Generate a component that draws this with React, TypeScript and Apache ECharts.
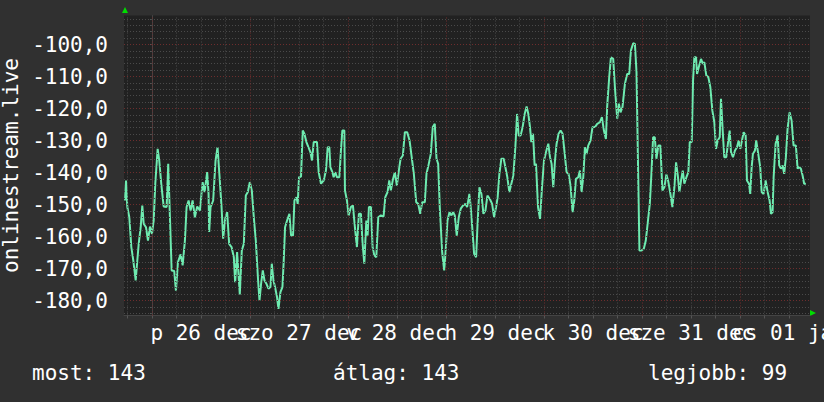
import React, { useEffect, useRef } from 'react';
import * as echarts from 'echarts';

// hours relative to 26 Dec 00:00
const hours = [
  -6.60, -6.36, -6.04, -5.55, -5.06, -4.57, -3.99, -3.59, -3.25, -2.76, -2.37, -2.03, -1.47, -0.98, -0.49, 0,
  0.42, 0.81, 1.39, 1.78, 2.27, 2.86, 3.59, 3.98, 4.40, 4.82, 5.45, 5.87, 6.36, 7.02, 7.51, 8.07, 8.48, 8.97,
  9.46, 9.95, 10.51, 11.08, 11.74, 12.40, 12.88, 13.52, 13.86, 14.01, 14.35, 14.99, 15.57, 16.06, 16.45, 17.04,
  17.43, 17.92, 18.41, 18.90, 19.49, 20.05, 20.37, 20.85, 21.51, 22.00, 22.49, 22.98, 23.47, 23.96, 24.45, 24.94,
  25.43, 25.99,
  26.33, 26.72, 27.14, 27.55, 28.04, 28.53, 29.02, 29.34, 29.75, 30.14, 30.63, 30.98, 31.46, 31.95, 32.27, 32.59,
  33.08, 33.66, 34.06, 34.54, 34.89, 35.38, 35.69, 36.01, 36.50, 36.92, 37.33, 37.82, 38.31, 38.80, 39.19, 39.61,
  40.41, 40.83, 41.39, 42.05, 42.61, 43.03, 43.44, 43.69, 44.18, 44.50, 44.91, 45.30, 45.89, 46.28, 46.62, 47.11,
  47.26, 47.75, 48.16, 48.72, 49.21, 49.70, 50.19, 50.68, 51.17, 51.59, 52.00, 52.49, 52.81, 53.13, 53.62, 54.03,
  54.45, 54.93, 55.42, 56.06, 56.72, 57.14, 57.70, 58.11, 58.50, 58.99, 59.48, 59.97,
  60.46, 60.88, 61.44, 61.93, 62.51, 63.08, 63.56, 64.13, 64.71, 65.20, 65.69, 66.18, 66.82, 67.23, 67.79, 68.28,
  68.77, 69.26, 69.68, 70.09, 70.48, 71.07, 71.56, 71.88, 72.37, 72.86, 73.34, 73.76, 74.15, 74.64, 75.13, 75.62,
  76.20, 76.77, 77.18, 77.74, 78.06, 78.40, 78.89, 79.38, 79.70, 80.19, 80.68, 81.17, 81.66, 82.15, 82.71, 83.30,
  83.79, 84.27, 84.66, 85.08, 85.57, 86.13, 86.54, 87.03, 87.52, 88.01, 88.50, 88.99, 89.41, 89.80, 90.29, 90.78,
  91.27, 91.75, 92.17, 92.58, 92.90, 93.32, 93.71,
  94.05, 94.54, 95.03, 95.52, 96.01, 96.50, 97.06, 97.48, 97.87, 98.28, 98.70, 99.09, 99.58, 100.07, 100.56, 101.04,
  101.53, 102.02, 102.51, 103.00, 103.42, 103.83, 104.39, 104.81, 105.20, 105.62, 106.03, 106.42, 106.84, 107.40,
  107.89, 108.48, 109.04, 109.70, 110.19, 110.68, 111.17, 111.49, 111.98, 112.39, 112.96, 113.37, 113.94, 114.35,
  114.74, 115.23, 115.82, 116.38, 116.87, 117.29, 117.85, 118.27, 118.66, 119.38, 119.87, 120.45, 120.94, 121.43,
  121.92, 122.31, 122.73, 123.14, 123.53, 124.02, 124.51, 125.00, 125.49, 125.98, 126.47, 126.96, 127.45,
  127.94, 128.35, 128.77, 129.16, 129.57, 129.99, 130.38, 130.87, 131.36, 131.70, 132.19, 132.51, 132.83, 133.24,
  133.49, 133.90, 134.46, 134.88, 135.27, 135.76, 136.25, 136.74, 137.23, 137.72, 138.13, 138.55, 139.04, 139.35,
  139.77, 140.16, 140.65, 141.14, 141.48, 141.80, 142.29, 142.78, 143.27, 143.68, 144.07, 144.49, 144.90, 145.39,
  145.71, 146.20, 146.52, 146.86, 147.17, 147.67, 147.98, 148.47, 148.96, 149.30, 149.79, 150.28, 150.77, 151.26,
  151.58, 151.99, 152.24, 152.73, 153.22, 153.61, 154.02, 154.44, 154.83, 155.24, 155.66, 156.15, 156.64, 157.13,
  157.69, 158.11, 158.50, 158.92, 159.33, 159.72, 160.14,
];

const values = [
  -148.75, -142.5, -150.8, -154.0, -163.3, -167.5, -173.75, -167.5, -162.3, -157.1, -150.3, -156.0, -157.1, -161.25, -156.9, -159.2,
  -155.0, -143.5, -132.6, -136.25, -143.5, -150.6, -150.8, -137.3, -154.0, -170.6, -170.8, -176.9, -168.0, -165.6, -169.0, -161.25, -150.8, -148.75,
  -151.9, -148.75, -154.0, -150.6, -151.9, -143.0, -146.1, -139.9, -146.7, -158.6, -150.8, -148.75, -136.25, -132.1, -139.4, -150.8,
  -160.7, -154.5, -152.4, -162.3, -163.3, -166.5, -174.3, -164.9, -178.1, -164.4, -162.3, -147.2, -146.1, -143.0, -145.6, -154.0,
  -161.25, -173.75,
  -180.0, -174.8, -170.6, -173.75, -174.8, -176.3, -175.8, -168.5, -173.75, -175.8, -179.0, -182.6, -177.4, -175.8, -167.5, -157.1,
  -155.0, -152.9, -159.7, -159.7, -148.75, -147.7, -149.8, -141.5, -141.25, -126.9, -127.9, -130.5, -132.1, -133.6, -136.25, -130.5,
  -130.5, -139.9, -143.5, -142.5, -139.4, -132.1, -132.1, -138.3, -139.9, -141.5, -139.9, -141.5, -141.5, -133.1, -126.9, -126.9,
  -145.6, -148.75, -153.4, -150.8, -150.3, -157.1, -163.3, -152.9, -152.9, -162.3, -168.5, -155.0, -159.7, -150.8, -150.8, -163.3,
  -165.9, -166.5, -154.0, -153.4, -153.75, -147.7, -146.1, -142.5, -145.6, -142.3, -139.9, -144.1,
  -139.4, -135.7, -134.7, -127.4, -127.4, -130.0, -134.7, -140.4, -149.3, -149.8, -152.9, -149.3, -149.3, -140.4, -137.3, -134.2,
  -125.8, -124.8, -135.7, -137.3, -150.8, -164.9, -170.6, -165.4, -155.0, -152.4, -153.4, -152.4, -153.4, -159.7, -154.0, -151.3,
  -150.3, -149.8, -150.8, -146.7, -150.8, -156.6, -165.4, -166.5, -157.1, -144.6, -146.7, -152.9, -151.9, -147.2, -148.2, -149.8,
  -154.0, -150.8, -147.7, -140.4, -135.7, -135.7, -138.3, -141.5, -146.1, -143.5, -140.9, -132.1, -121.7, -128.4, -128.4, -125.8,
  -121.7, -119.4, -121.7, -125.8, -130.5, -127.9, -137.8,
  -137.3, -150.8, -154.5, -144.6, -136.25, -133.6, -131.0, -135.2, -137.3, -144.6, -136.25, -131.0, -127.9, -126.9, -127.9, -133.6,
  -139.9, -140.4, -144.1, -152.4, -148.75, -142.0, -141.5, -139.4, -146.1, -141.5, -132.1, -134.2, -131.6, -130.0,
  -125.8, -125.8, -124.8, -124.3, -122.7, -126.9, -129.5, -119.1, -110.2, -104.0, -104.5, -113.3, -123.2, -118.5,
  -121.2, -119.6, -112.3, -109.2, -109.2, -101.9, -99.6, -99.8, -108.6, -164.4, -164.4, -163.8, -161.25, -155.5,
  -149.8, -140.4, -129.0, -129.0, -135.7, -131.6, -131.6, -145.6, -144.6, -140.6, -143.0, -146.7, -150.8,
  -144.6, -136.8, -140.9, -146.1, -142.5, -139.4, -143.5, -141.5, -139.9, -130.5, -130.5, -111.25, -104.0, -104.0,
  -109.2, -107.1, -104.5, -106.0, -105.5, -109.7, -110.2, -113.3, -120.6, -124.3, -132.6, -130.0, -129.0, -117.0,
  -126.9, -135.2, -135.2, -130.0, -126.9, -133.6, -135.2, -133.1, -132.1, -130.0, -132.6, -130.0, -127.4, -128.4,
  -142.5, -143.5, -146.7, -138.3, -134.2, -133.1, -130.0, -134.2, -138.3, -146.1, -146.7, -142.5, -146.1, -148.75,
  -152.9, -152.4, -141.5, -131.0, -128.4, -137.8, -138.8, -137.8, -140.4, -135.2, -126.3, -121.2, -123.75, -131.6,
  -131.6, -138.8, -138.3, -138.8, -140.9, -143.5, -143.5,
];

const dayLabelHours = [12, 36, 60, 84, 108, 132, 156];
const dayLabels = ['p 26 dec', 'szo 27 dec', 'v 28 dec', 'h 29 dec', 'k 30 dec', 'sze 31 dec', 'cs 01 jan'];
const yLabelValues = [-180, -170, -160, -150, -140, -130, -120, -110, -100];
const statNames = ['most', 'átlag', 'legjobb'];
const statValues = [143, 143, 99];
const yAxisTitle = 'onlinestream.live';

const X_MIN = -6.85;
const X_MAX = 161.15;
const Y_MIN = -184.6875;
const Y_MAX = -90.9375;

const FONT = 'DejaVu Sans Mono';
const TEXT = '#ffffff';
const MINOR = '#4a4a4a';
const MAJOR = '#6e2d2d';

export default function App() {
  const ref = useRef<HTMLDivElement>(null);

  useEffect(() => {
    if (!ref.current) return;
    const chart = echarts.init(ref.current, undefined, { renderer: 'svg' });

    const gridLines: any[] = [];
    for (let v = -184; v <= -92; v += 2) {
      gridLines.push({ yAxis: v, lineStyle: { color: v % 10 === 0 ? MAJOR : MINOR, type: [1, 2], width: 1 } });
    }
    for (let h = -6; h <= 156; h += 6) {
      gridLines.push({ xAxis: h, lineStyle: { color: h % 24 === 0 ? MAJOR : MINOR, type: [1, 2], width: 1 } });
    }
    const xTickVals: number[] = [];
    for (let h = -6; h <= 156; h += 6) xTickVals.push(h);
    const yTickVals: number[] = [];
    for (let v = -184; v <= -92; v += 2) yTickVals.push(v);

    const statX = [32, 333, 648];

    const baseGraphic: any[] = [
      {
        type: 'polygon',
        shape: { points: [[122, 13], [128, 13], [125, 7]] },
        style: { fill: '#00dd00' },
        silent: true,
      },
      {
        type: 'polygon',
        shape: { points: [[810, 310], [810, 316], [816, 313]] },
        style: { fill: '#00dd00' },
        silent: true,
      },
      ...statNames.map((n, i) => ({
        type: 'text',
        x: statX[i],
        y: 373,
        style: {
          text: `${n}: ${statValues[i]}`,
          fill: TEXT,
          font: `21px ${FONT}`,
          align: 'left',
          verticalAlign: 'middle',
        },
        silent: true,
      })),
    ];

    chart.setOption({
      animation: false,
      backgroundColor: '#303030',
      grid: {
        left: 124,
        top: 15.5,
        width: 686,
        height: 300,
        show: true,
        backgroundColor: '#212121',
        borderWidth: 0,
        containLabel: false,
        outerBoundsMode: 'none',
      },
      xAxis: {
        type: 'value',
        min: X_MIN,
        max: X_MAX,
        splitLine: { show: false },
        axisLine: { show: true, lineStyle: { color: '#444444', width: 1 } },
        axisTick: { show: true, customValues: xTickVals, length: 3, lineStyle: { color: '#555555' } },
        axisLabel: { show: false },
      },
      yAxis: {
        type: 'value',
        min: Y_MIN,
        max: Y_MAX,
        name: yAxisTitle,
        nameLocation: 'middle',
        nameRotate: 90,
        nameGap: 101,
        nameTextStyle: { color: TEXT, fontFamily: FONT, fontSize: 21 },
        splitLine: { show: false },
        axisLine: { show: true, lineStyle: { color: '#444444', width: 1 } },
        axisTick: { show: true, customValues: yTickVals, length: 2, lineStyle: { color: '#555555' } },
        axisLabel: {
          customValues: yLabelValues,
          formatter: (v: number) => v.toFixed(1).replace('.', ','),
          color: TEXT,
          fontFamily: FONT,
          fontSize: 21,
          margin: 16,
          showMinLabel: true,
          showMaxLabel: true,
        },
      },
      graphic: baseGraphic,
      series: [
        {
          type: 'line',
          z: 1,
          data: [[0, -150]],
          showSymbol: false,
          lineStyle: { opacity: 0 },
          silent: true,
          markLine: {
            silent: true,
            symbol: ['none', 'none'],
            label: { show: false },
            animation: false,
            data: gridLines,
          },
        },
        {
          type: 'line',
          z: 3,
          data: hours.map((h, i) => [h, values[i]]),
          showSymbol: false,
          symbol: 'none',
          lineStyle: { color: '#6eebb0', width: 2 },
          silent: true,
        },
      ],
    });

    // day labels placed through the x axis scale (they overlap in the original, so draw them all)
    const axisBottom = chart.convertToPixel({ yAxisIndex: 0 }, Y_MIN) as number;
    const dayGraphic = dayLabelHours.map((h, i) => ({
      type: 'text',
      x: chart.convertToPixel({ xAxisIndex: 0 }, h) as number,
      y: axisBottom + 17,
      style: {
        text: dayLabels[i],
        fill: TEXT,
        font: `21px ${FONT}`,
        align: 'center',
        verticalAlign: 'middle',
      },
      silent: true,
    }));
    chart.setOption({ graphic: [...baseGraphic, ...dayGraphic] });

    return () => chart.dispose();
  }, []);

  return <div ref={ref} style={{ position: 'fixed', left: 0, top: 0, width: 824, height: 402 }} />;
}
